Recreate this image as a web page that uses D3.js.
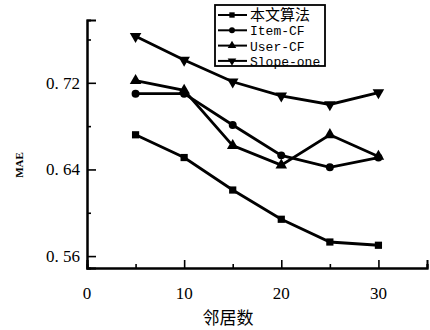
<!DOCTYPE html>
<html lang="zh">
<head>
  <meta charset="utf-8">
  <title>MAE vs 邻居数</title>
  <style>
    body { margin: 0; background: #fff; }
    svg { display: block; }
  </style>
</head>
<body>
<div id="chart"></div>
<script src="https://cdn.jsdelivr.net/npm/d3@7"></script>
<script>
  ////////////////////////////////////////////////// DATA

  var neighbours = [5, 10, 15, 20, 25, 30];
  var seriesNames = ["本文算法", "Item-CF", "User-CF", "Slope-one"];
  var oursMAE     = [0.672, 0.651, 0.621, 0.594, 0.573, 0.570];
  var itemMAE     = [0.710, 0.710, 0.681, 0.653, 0.642, 0.651];
  var userMAE     = [0.722, 0.713, 0.662, 0.644, 0.672, 0.652];
  var slopeMAE    = [0.763, 0.741, 0.721, 0.708, 0.700, 0.711];
  var xTicks = [0, 10, 20, 30];
  var yTicks = [0.56, 0.64, 0.72];

  ////////////////////////////////////////////////// SETUP

  var width = 430, height = 330;
  var margin = {top: 20, right: 3, bottom: 62, left: 87};

  var svg = d3.select("#chart").append("svg")
              .attr("width", width)
              .attr("height", height);

  var x = d3.scaleLinear().domain([0, 35]).range([margin.left, width - margin.right]);
  var y = d3.scaleLinear().domain([0.549, 0.778]).range([height - margin.bottom, margin.top]);

  var serif = "'Liberation Serif', 'DejaVu Serif', serif";
  var mono = "'Liberation Mono', 'DejaVu Sans Mono', monospace";

  // axes: inward ticks, major + minor
  var xAxis = d3.axisTop(x).tickValues(xTicks).tickSize(8).tickFormat("");
  var xMinor = d3.axisTop(x).tickValues([5, 15, 25, 35]).tickSize(4).tickFormat("");
  var yAxis = d3.axisRight(y).tickValues(yTicks).tickSize(9).tickFormat("");
  var yMinor = d3.axisRight(y).tickValues([0.60, 0.68, 0.76]).tickSize(4).tickFormat("");

  var gx = svg.append("g").attr("transform", "translate(0," + y.range()[0] + ")");
  gx.call(xAxis); gx.append("g").call(xMinor);
  var gy = svg.append("g").attr("transform", "translate(" + margin.left + ",0)");
  gy.call(yAxis); gy.append("g").call(yMinor);

  svg.selectAll(".domain").attr("stroke", "#000").attr("stroke-width", 2);
  svg.selectAll(".tick line").attr("stroke", "#000").attr("stroke-width", 1.6);

  // tick labels
  svg.append("g").selectAll("text").data(xTicks).enter().append("text")
     .attr("x", function(d){ return x(d); })
     .attr("y", y.range()[0] + 31)
     .attr("text-anchor", "middle")
     .style("font-family", serif).style("font-size", "17px")
     .text(function(d){ return d; });

  svg.append("g").selectAll("text").data(yTicks).enter().append("text")
     .attr("x", margin.left - 7)
     .attr("y", function(d){ return y(d) + 6; })
     .attr("text-anchor", "end")
     .style("font-family", serif).style("font-size", "17px")
     .text(function(d){ return d3.format(".2f")(d).replace(".", ". "); });

  // axis titles
  svg.append("text")
     .attr("x", 228).attr("y", 324)
     .attr("text-anchor", "middle")
     .style("font-family", "'Noto Sans CJK SC', sans-serif").style("font-size", "17px")
     .text("邻居数");

  svg.append("text")
     .attr("transform", "translate(23,165) rotate(-90)")
     .attr("text-anchor", "middle")
     .style("font-family", serif).style("font-size", "11px").style("font-weight", "bold")
     .text("MAE");

  ////////////////////////////////////////////////// SERIES

  var allSeries = [oursMAE, itemMAE, userMAE, slopeMAE];
  var shapes = [d3.symbolSquare, d3.symbolCircle, d3.symbolTriangle, d3.symbolTriangle];
  var shapeSizes = [52, 50, 58, 58];
  var rotations = [0, 0, 0, 180];

  var line = d3.line()
               .x(function(d, i){ return x(neighbours[i]); })
               .y(function(d){ return y(d); });

  allSeries.forEach(function(vals, k){
    svg.append("path")
       .datum(vals)
       .attr("d", line)
       .attr("fill", "none")
       .attr("stroke", "#000")
       .attr("stroke-width", 2.8);

    svg.append("g").selectAll("path").data(vals).enter().append("path")
       .attr("d", d3.symbol().type(shapes[k]).size(shapeSizes[k]))
       .attr("transform", function(d, i){
         return "translate(" + x(neighbours[i]) + "," + y(d) + ") rotate(" + rotations[k] + ")";
       })
       .attr("fill", "#000");
  });

  ////////////////////////////////////////////////// LEGEND

  var legend = svg.append("g").attr("transform", "translate(215,5)");
  legend.append("rect")
        .attr("width", 110).attr("height", 61)
        .attr("fill", "#fff").attr("stroke", "#000").attr("stroke-width", 1.8);

  seriesNames.forEach(function(name, k){
    var ry = 10 + k * 15.3;
    legend.append("line")
          .attr("x1", 3).attr("x2", 32).attr("y1", ry).attr("y2", ry)
          .attr("stroke", "#000").attr("stroke-width", 2);
    legend.append("path")
          .attr("d", d3.symbol().type(shapes[k]).size(shapeSizes[k] * 0.55))
          .attr("transform", "translate(17," + ry + ") rotate(" + rotations[k] + ")")
          .attr("fill", "#000");
    legend.append("text")
          .attr("x", 35).attr("y", ry + 5)
          .style("font-family", k === 0 ? "'Noto Sans CJK SC', serif" : mono)
          .style("font-size", k === 0 ? "15px" : "13px")
          .text(name);
  });
</script>
</body>
</html>
